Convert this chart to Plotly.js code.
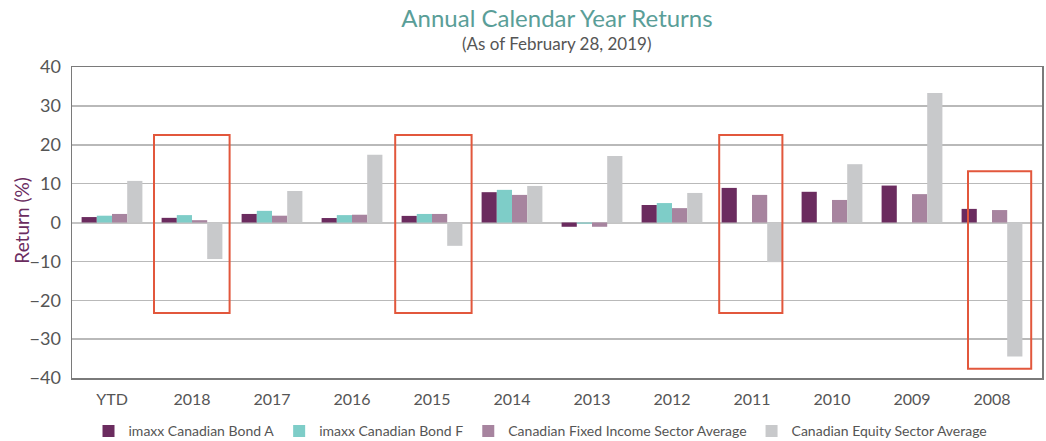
<!DOCTYPE html>
<html>
<head>
<meta charset="utf-8">
<script src="https://cdn.plot.ly/plotly-3.0.1.min.js"></script>
<style>
  html, body { margin: 0; padding: 0; background: #ffffff; }
  #chart { width: 1046px; height: 441px; }
</style>
</head>
<body>
<div id="chart"></div>
<script>
// ---- Data ----
const categories = ['YTD', '2018', '2017', '2016', '2015', '2014', '2013', '2012', '2011', '2010', '2009', '2008'];
const seriesNames = ['imaxx Canadian Bond A', 'imaxx Canadian Bond F', 'Canadian Fixed Income Sector Average', 'Canadian Equity Sector Average'];
const bondA    = [1.4, 1.2, 2.2, 1.15, 1.7, 7.8, -1.1, 4.5, 8.9, 7.9, 9.5, 3.5];
const bondF    = [1.75, 1.9, 3.0, 1.9, 2.2, 8.4, -0.3, 5.0, null, null, null, null];
const fixedInc = [2.2, 0.6, 1.75, 2.0, 2.2, 7.1, -1.1, 3.7, 7.1, 5.8, 7.3, 3.2];
const equity   = [10.7, -9.4, 8.1, 17.4, -6.0, 9.4, 17.1, 7.6, -10.2, 15.0, 33.3, -34.5];
const yTickVals = [-40, -30, -20, -10, 0, 10, 20, 30, 40];

// highlighted categories (red boxes): category, top, bottom (in % units)
const highlightCats = ['2018', '2015', '2011', '2008'];
const highlightTop  = [22.5, 22.5, 22.5, 13.2];
const highlightBot  = [-23.3, -23.3, -23.3, -37.6];
const highlightLeft = [-0.475, -0.46, -0.41, -0.3];
const highlightRight= [0.47, 0.495, 0.38, 0.49];

const colors = ['#6b2c5f', '#7ecdc8', '#a7849f', '#c8c9cb'];
const allSeries = [bondA, bondF, fixedInc, equity];

const traces = allSeries.map((vals, i) => ({
  type: 'bar',
  name: seriesNames[i],
  x: categories,
  y: vals,
  marker: { color: colors[i], line: { width: 0 } },
  hoverinfo: 'x+y+name'
}));

const shapes = highlightCats.map((c, i) => {
  const idx = categories.indexOf(c);
  return {
    type: 'rect', xref: 'x', yref: 'y',
    x0: idx + highlightLeft[i], x1: idx + highlightRight[i],
    y0: highlightBot[i], y1: highlightTop[i],
    line: { color: '#e2573c', width: 2 },
    fillcolor: 'rgba(0,0,0,0)',
    layer: 'above'
  };
});

const font = 'Lato, "Open Sans", sans-serif';

const layout = {
  width: 1046, height: 441,
  margin: { l: 72, r: 4, t: 67, b: 63, autoexpand: false },
  paper_bgcolor: '#ffffff', plot_bgcolor: '#ffffff',
  font: { family: font, color: '#555555' },
  barmode: 'group',
  bargap: 0.24,
  bargroupgap: 0,
  showlegend: true,
  title: {
    text: 'Annual Calendar Year Returns',
    font: { family: font, size: 24, color: '#5a9e98' },
    xref: 'paper', x: 0.5, xanchor: 'center',
    yref: 'container', y: 0.958, yanchor: 'middle'
  },
  annotations: [{
    text: '(As of February 28, 2019)',
    xref: 'paper', yref: 'paper', x: 0.5, y: 1.077,
    xanchor: 'center', yanchor: 'middle', showarrow: false,
    font: { family: font, size: 17, color: '#555555' }
  }, {
    text: 'Return (%)',
    xref: 'paper', yref: 'paper', x: 0, y: 0.506, xshift: -50,
    xanchor: 'center', yanchor: 'middle', showarrow: false, textangle: -90,
    font: { family: font, size: 19, color: '#6b2c5f' }
  }],
  xaxis: {
    type: 'category',
    range: [-0.5, 11.625],
    showgrid: false,
    showline: true, linecolor: '#7a7a7a', linewidth: 1.5, mirror: true,
    ticks: '',
    ticklabelstandoff: 6,
    tickfont: { family: font, size: 16, color: '#555555' },
    fixedrange: true
  },
  yaxis: {
    range: [-40, 40],
    tickvals: yTickVals,
    showgrid: true, gridcolor: '#b9b9b9', gridwidth: 1.5,
    zeroline: true, zerolinecolor: '#c4c4c4', zerolinewidth: 2,
    showline: true, linecolor: '#7a7a7a', linewidth: 1.5, mirror: true,
    ticks: '',
    ticklabelstandoff: 6,
    tickfont: { family: font, size: 18, color: '#555555' },
    fixedrange: true
  },
  legend: {
    orientation: 'h',
    xref: 'paper', x: 0.483, xanchor: 'center',
    yref: 'paper', y: -0.1715, yanchor: 'middle',
    font: { family: font, size: 14, color: '#555555' },
    itemwidth: 30,
    traceorder: 'normal'
  },
  shapes: shapes
};

Plotly.newPlot('chart', traces, layout, { displayModeBar: false, staticPlot: true });
</script>
</body>
</html>
